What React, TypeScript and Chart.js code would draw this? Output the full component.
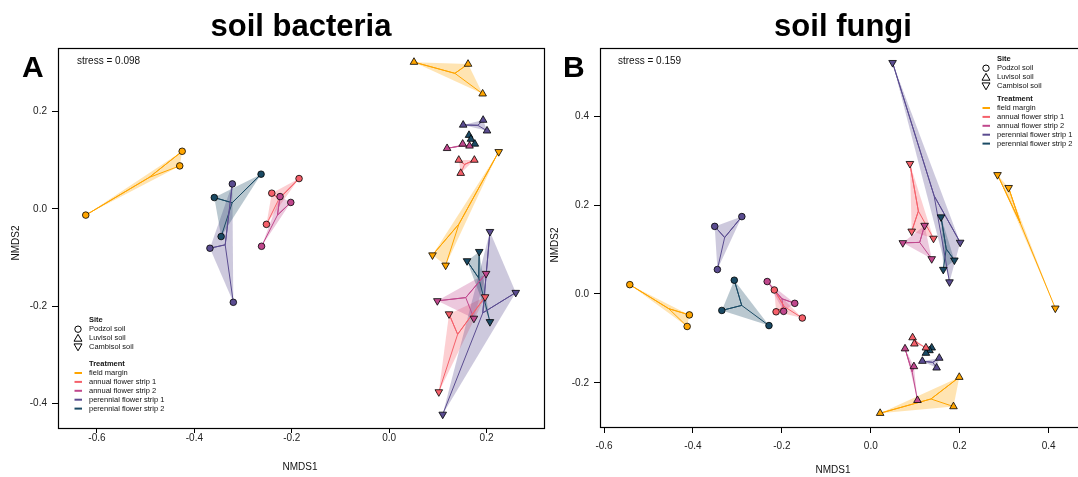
import React, { useEffect, useRef } from "react";
import { Chart, registerables } from "chart.js";

Chart.register(...registerables);

const FONT = "'Liberation Sans', Arial, Helvetica, sans-serif";

const treatments = [
  "field margin",
  "annual flower strip 1",
  "annual flower strip 2",
  "perennial flower strip 1",
  "perennial flower strip 2",
];
const treatmentColors = ["#FFA500", "#F5606A", "#C0488D", "#5A4C90", "#1A4A64"];
const sites = ["Podzol soil", "Luvisol soil", "Cambisol soil"];

// NMDS site scores: three replicate plots per treatment, listed in the order of `treatments`
const bacteriaPodzolNMDS1 = [-0.623, -0.425, -0.43, -0.185, -0.241, -0.252, -0.224, -0.202, -0.262, -0.322, -0.368, -0.32, -0.263, -0.359, -0.345];
const bacteriaPodzolNMDS2 = [-0.013, 0.118, 0.088, 0.062, 0.032, -0.032, 0.025, 0.013, -0.077, 0.051, -0.081, -0.192, 0.071, 0.023, -0.057];
const bacteriaLuvisolNMDS1 = [0.051, 0.162, 0.192, 0.143, 0.175, 0.147, 0.119, 0.151, 0.165, 0.152, 0.193, 0.201, 0.164, 0.168, 0.176];
const bacteriaLuvisolNMDS2 = [0.301, 0.297, 0.236, 0.1, 0.1, 0.073, 0.124, 0.133, 0.129, 0.172, 0.182, 0.16, 0.151, 0.143, 0.133];
const bacteriaCambisolNMDS1 = [0.225, 0.089, 0.116, 0.197, 0.123, 0.102, 0.199, 0.099, 0.174, 0.207, 0.26, 0.11, 0.185, 0.16, 0.207];
const bacteriaCambisolNMDS2 = [0.117, -0.095, -0.116, -0.181, -0.216, -0.376, -0.133, -0.189, -0.225, -0.047, -0.172, -0.422, -0.088, -0.107, -0.232];

const fungiPodzolNMDS1 = [-0.542, -0.408, -0.413, -0.217, -0.213, -0.154, -0.233, -0.171, -0.196, -0.351, -0.29, -0.345, -0.307, -0.335, -0.229];
const fungiPodzolNMDS2 = [0.021, -0.047, -0.073, 0.009, -0.04, -0.054, 0.028, -0.021, -0.039, 0.152, 0.174, 0.055, 0.031, -0.037, -0.071];
const fungiLuvisolNMDS1 = [0.021, 0.199, 0.186, 0.094, 0.098, 0.124, 0.077, 0.097, 0.105, 0.116, 0.154, 0.148, 0.137, 0.132, 0.124];
const fungiLuvisolNMDS2 = [-0.268, -0.187, -0.253, -0.098, -0.112, -0.121, -0.123, -0.163, -0.239, -0.151, -0.144, -0.166, -0.121, -0.127, -0.133];
const fungiCambisolNMDS1 = [0.285, 0.31, 0.415, 0.088, 0.092, 0.141, 0.121, 0.072, 0.137, 0.049, 0.201, 0.177, 0.158, 0.188, 0.163];
const fungiCambisolNMDS2 = [0.268, 0.239, -0.032, 0.293, 0.141, 0.125, 0.154, 0.115, 0.079, 0.52, 0.116, 0.027, 0.173, 0.076, 0.055];

// axis ticks
const bacteriaXTicks = [-0.6, -0.4, -0.2, 0.0, 0.2];
const bacteriaYTicks = [-0.4, -0.2, 0.0, 0.2];
const fungiXTicks = [-0.6, -0.4, -0.2, 0.0, 0.2, 0.4];
const fungiYTicks = [-0.2, 0.0, 0.2, 0.4];

type Pt = { x: number; y: number };
type Group = { site: number; treatment: number; pts: Pt[] };

function buildGroups(xs: number[][], ys: number[][]): Group[] {
  const groups: Group[] = [];
  sites.forEach((_, s) => {
    treatments.forEach((_, k) => {
      const pts = [0, 1, 2].map((r) => ({ x: xs[s][k * 3 + r], y: ys[s][k * 3 + r] }));
      groups.push({ site: s, treatment: k, pts });
    });
  });
  return groups;
}

function centroid(pts: Pt[]): Pt {
  const n = pts.length;
  return {
    x: pts.reduce((a, p) => a + p.x, 0) / n,
    y: pts.reduce((a, p) => a + p.y, 0) / n,
  };
}

function convexHull(points: Pt[]): Pt[] {
  const pts = [...points].sort((a, b) => a.x - b.x || a.y - b.y);
  if (pts.length < 3) return pts;
  const cross = (o: Pt, a: Pt, b: Pt) => (a.x - o.x) * (b.y - o.y) - (a.y - o.y) * (b.x - o.x);
  const lower: Pt[] = [];
  for (const p of pts) {
    while (lower.length >= 2 && cross(lower[lower.length - 2], lower[lower.length - 1], p) <= 0) lower.pop();
    lower.push(p);
  }
  const upper: Pt[] = [];
  for (let i = pts.length - 1; i >= 0; i--) {
    const p = pts[i];
    while (upper.length >= 2 && cross(upper[upper.length - 2], upper[upper.length - 1], p) <= 0) upper.pop();
    upper.push(p);
  }
  upper.pop();
  lower.pop();
  return lower.concat(upper);
}

function withAlpha(hex: string, a: number) {
  const n = parseInt(hex.slice(1), 16);
  return `rgba(${(n >> 16) & 255},${(n >> 8) & 255},${n & 255},${a})`;
}

type Panel = {
  key: string;
  title: string;
  letter: string;
  stress: string;
  groups: Group[];
  xRange: [number, number];
  yRange: [number, number];
  xTicks: number[];
  yTicks: number[];
  xTickLength: number;
  xTickPadding: number;
  canvasLeft: number;
  canvasWidth: number;
  area: { left: number; right: number; top: number; bottom: number };
  titleX: number;
  letterX: number;
  stressX: number;
  xTitleX: number;
  xTitleY: number;
  yTitleX: number;
  yTitleY: number;
  legendX: number;
  legendY: number;
  treatmentGap: number;
};

const HEIGHT = 477;

const panels: Panel[] = [
  {
    key: "bacteria",
    title: "soil bacteria",
    letter: "A",
    stress: "stress = 0.098",
    groups: buildGroups(
      [bacteriaPodzolNMDS1, bacteriaLuvisolNMDS1, bacteriaCambisolNMDS1],
      [bacteriaPodzolNMDS2, bacteriaLuvisolNMDS2, bacteriaCambisolNMDS2]
    ),
    xRange: [-0.68, 0.318],
    yRange: [-0.45, 0.33],
    xTicks: bacteriaXTicks,
    yTicks: bacteriaYTicks,
    xTickLength: 5,
    xTickPadding: -1,
    canvasLeft: 0,
    canvasWidth: 550,
    area: { left: 58, right: 544, top: 48, bottom: 428 },
    titleX: 301,
    letterX: 22,
    stressX: 77,
    xTitleX: 300,
    xTitleY: 467,
    yTitleX: 16,
    yTitleY: 243,
    legendX: 78,
    legendY: 320,
    treatmentGap: 44,
  },
  {
    key: "fungi",
    title: "soil fungi",
    letter: "B",
    stress: "stress = 0.159",
    groups: buildGroups(
      [fungiPodzolNMDS1, fungiLuvisolNMDS1, fungiCambisolNMDS1],
      [fungiPodzolNMDS2, fungiLuvisolNMDS2, fungiCambisolNMDS2]
    ),
    xRange: [-0.609, 0.484],
    yRange: [-0.299, 0.553],
    xTicks: fungiXTicks,
    yTicks: fungiYTicks,
    xTickLength: 6,
    xTickPadding: 7,
    canvasLeft: 540,
    canvasWidth: 560,
    area: { left: 60, right: 546, top: 48, bottom: 427 },
    titleX: 303,
    letterX: 23,
    stressX: 78,
    xTitleX: 293,
    xTitleY: 470,
    yTitleX: 15,
    yTitleY: 245,
    legendX: 446,
    legendY: 59,
    treatmentGap: 40,
  },
];

function drawMarker(ctx: CanvasRenderingContext2D, site: number, x: number, y: number) {
  ctx.beginPath();
  if (site === 0) {
    ctx.arc(x, y, 3.2, 0, Math.PI * 2);
  } else {
    const r = 4.6;
    const dir = site === 1 ? -1 : 1;
    for (let i = 0; i < 3; i++) {
      const a = (i * 2 * Math.PI) / 3;
      const px = x + Math.sin(a) * r;
      const py = y + dir * Math.cos(a) * r;
      if (i === 0) ctx.moveTo(px, py);
      else ctx.lineTo(px, py);
    }
    ctx.closePath();
  }
  ctx.stroke();
}

function makeConfig(panel: Panel): any {
  const { groups, area } = panel;

  const spiderSets = groups.map((g) => {
    const c = centroid(g.pts);
    return {
      type: "scatter",
      data: g.pts.flatMap((p) => [{ x: c.x, y: c.y }, { x: p.x, y: p.y }]),
      showLine: true,
      borderColor: treatmentColors[g.treatment],
      borderWidth: 1,
      pointRadius: 0,
      fill: false,
      order: 2,
    };
  });

  const pointSets = groups.map((g) => ({
    type: "scatter",
    data: g.pts,
    pointStyle: g.site === 0 ? "circle" : "triangle",
    rotation: g.site === 2 ? 180 : 0,
    pointRadius: g.site === 0 ? 3.3 : 4.4,
    backgroundColor: treatmentColors[g.treatment],
    borderColor: "#000",
    borderWidth: 0.8,
    order: 1,
  }));

  const scaleCommon = (ticks: number[], tickLength: number) => ({
    type: "linear",
    grid: {
      display: true,
      drawOnChartArea: false,
      drawTicks: true,
      tickLength,
      color: "#000",
      lineWidth: 1,
    },
    border: { display: false },
    afterBuildTicks: (scale: any) => {
      scale.ticks = ticks.map((v) => ({ value: v }));
    },
  });

  const panelPlugin = {
    id: "panelDecor" + panel.key,
    beforeDatasetsDraw(chart: any) {
      const { ctx, chartArea, scales } = chart;
      ctx.save();
      ctx.beginPath();
      ctx.rect(chartArea.left, chartArea.top, chartArea.right - chartArea.left, chartArea.bottom - chartArea.top);
      ctx.clip();
      for (const g of groups) {
        const hull = convexHull(g.pts);
        ctx.beginPath();
        hull.forEach((p, i) => {
          const px = scales.x.getPixelForValue(p.x);
          const py = scales.y.getPixelForValue(p.y);
          if (i === 0) ctx.moveTo(px, py);
          else ctx.lineTo(px, py);
        });
        ctx.closePath();
        ctx.fillStyle = withAlpha(treatmentColors[g.treatment], 0.3);
        ctx.fill();
      }
      ctx.restore();
    },
    afterDraw(chart: any) {
      const { ctx, chartArea } = chart;
      ctx.save();
      // plot box
      ctx.strokeStyle = "#000";
      ctx.lineWidth = 1.2;
      ctx.strokeRect(
        Math.round(chartArea.left) + 0.5,
        Math.round(chartArea.top) + 0.5,
        Math.round(chartArea.right - chartArea.left),
        Math.round(chartArea.bottom - chartArea.top)
      );

      // main title and panel letter
      ctx.fillStyle = "#000";
      ctx.textBaseline = "alphabetic";
      ctx.textAlign = "center";
      ctx.font = `bold 31px ${FONT}`;
      ctx.fillText(panel.title, panel.titleX, 36);
      ctx.textAlign = "left";
      ctx.font = `bold 30px ${FONT}`;
      ctx.fillText(panel.letter, panel.letterX, 77);

      // stress annotation
      ctx.font = `10px ${FONT}`;
      ctx.textBaseline = "middle";
      ctx.fillStyle = "#111";
      ctx.fillText(panel.stress, panel.stressX, 61);

      // axis titles
      ctx.textAlign = "center";
      ctx.fillText("NMDS1", panel.xTitleX, panel.xTitleY);
      ctx.save();
      ctx.translate(panel.yTitleX, panel.yTitleY);
      ctx.rotate(-Math.PI / 2);
      ctx.fillText("NMDS2", 0, 0);
      ctx.restore();

      // legend
      const lx = panel.legendX;
      const tx = lx + 11;
      let y = panel.legendY;
      ctx.textAlign = "left";
      ctx.textBaseline = "middle";
      ctx.fillStyle = "#111";
      ctx.font = `bold 7.5px ${FONT}`;
      ctx.fillText("Site", tx, y);
      ctx.font = `7.5px ${FONT}`;
      ctx.strokeStyle = "#000";
      ctx.lineWidth = 1;
      sites.forEach((s, i) => {
        const yy = y + 9.2 + i * 8.9;
        drawMarker(ctx, i, lx, yy + (i === 1 ? 0.8 : i === 2 ? -0.8 : 0));
        ctx.fillText(s, tx, yy);
      });
      y += panel.treatmentGap;
      ctx.font = `bold 7.5px ${FONT}`;
      ctx.fillText("Treatment", tx, y);
      ctx.font = `7.5px ${FONT}`;
      treatments.forEach((t, i) => {
        const yy = y + 9 + i * 8.9;
        ctx.strokeStyle = treatmentColors[i];
        ctx.lineWidth = 2;
        ctx.beginPath();
        ctx.moveTo(lx - 3.5, yy);
        ctx.lineTo(lx + 4, yy);
        ctx.stroke();
        ctx.fillStyle = "#111";
        ctx.fillText(t, tx, yy);
      });
      ctx.restore();
    },
  };

  return {
    type: "scatter",
    data: { datasets: [...pointSets, ...spiderSets] },
    options: {
      responsive: false,
      animation: false,
      events: [],
      layout: {
        padding: {
          left: 0,
          top: area.top,
          right: panel.canvasWidth - area.right,
          bottom: 0,
        },
      },
      plugins: {
        legend: { display: false },
        tooltip: { enabled: false },
        title: { display: false },
      },
      scales: {
        x: {
          ...scaleCommon(panel.xTicks, panel.xTickLength),
          position: "bottom",
          min: panel.xRange[0],
          max: panel.xRange[1],
          ticks: {
            padding: panel.xTickPadding,
            color: "#222",
            font: { size: 10, family: FONT },
            maxRotation: 0,
            autoSkip: false,
            callback: (v: any) => Number(v).toFixed(1),
          },
          afterFit: (scale: any) => {
            scale.height = HEIGHT - area.bottom;
          },
        },
        y: {
          ...scaleCommon(panel.yTicks, 6),
          position: "left",
          min: panel.yRange[0],
          max: panel.yRange[1],
          ticks: {
            padding: 5,
            color: "#222",
            font: { size: 10, family: FONT },
            autoSkip: false,
            callback: (v: any) => Number(v).toFixed(1),
          },
          afterFit: (scale: any) => {
            scale.width = area.left;
          },
        },
      },
    },
    plugins: [panelPlugin],
  };
}

function NmdsPanel({ panel }: { panel: Panel }) {
  const ref = useRef<HTMLCanvasElement | null>(null);
  useEffect(() => {
    const canvas = ref.current;
    if (!canvas) return;
    const chart = new Chart(canvas, makeConfig(panel));
    return () => chart.destroy();
  }, [panel]);
  return (
    <canvas
      ref={ref}
      width={panel.canvasWidth}
      height={HEIGHT}
      style={{
        position: "absolute",
        left: panel.canvasLeft,
        top: 0,
        width: panel.canvasWidth,
        height: HEIGHT,
      }}
    />
  );
}

export default function App() {
  return (
    <div
      style={{
        position: "fixed",
        left: 0,
        top: 0,
        width: 1078,
        height: HEIGHT,
        overflow: "hidden",
        background: "#fff",
      }}
    >
      {panels.map((p) => (
        <NmdsPanel key={p.key} panel={p} />
      ))}
    </div>
  );
}
